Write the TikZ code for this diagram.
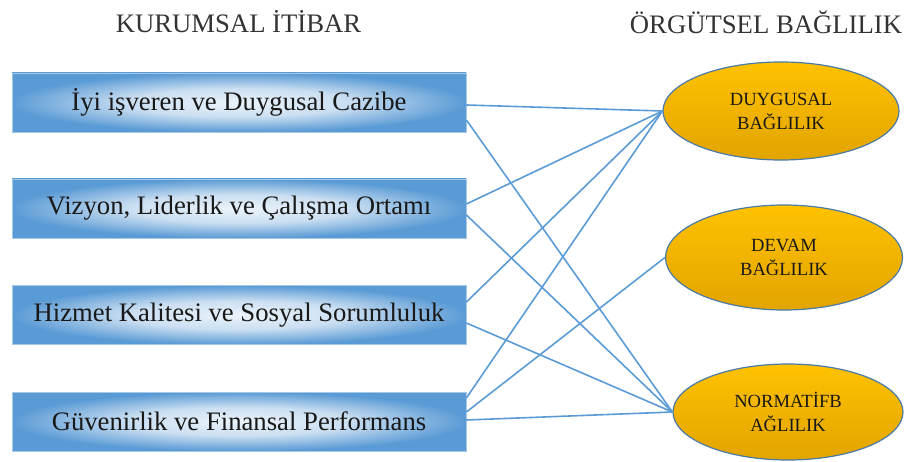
\documentclass[tikz,border=0pt]{standalone}
\usepackage{fontspec}
\setmainfont{Liberation Serif}
\usetikzlibrary{shapes.geometric,calc}
\definecolor{boxblue}{HTML}{5B9BD5}
\definecolor{linkblue}{HTML}{5B9BD5}
\definecolor{goldtop}{HTML}{FFC200}
\definecolor{goldbot}{HTML}{E2A400}
\definecolor{ellborder}{HTML}{4A7AA8}
\definecolor{titlegray}{HTML}{333333}
\pgfdeclareradialshading{boxshade}{\pgfpoint{0bp}{0bp}}{color(0bp)=(white!88!boxblue); color(12bp)=(white!68!boxblue); color(25bp)=(boxblue); color(50bp)=(boxblue)}
\tikzset{
  titlenode/.style={text=titlegray, inner sep=0pt, font=\fontsize{26.7}{30}\selectfont},
  boxnode/.style={draw=boxblue!55, line width=0.8pt, shading=boxshade, minimum width=454pt, minimum height=59pt, inner sep=0pt, text=black!90, font=\fontsize{26.7}{30}\selectfont},
  ellnode/.style={ellipse, draw=ellborder, line width=1.2pt, top color=goldtop, bottom color=goldbot, inner sep=0pt, align=center, text=black!90, font=\fontsize{18.6}{24}\selectfont},
  linkline/.style={draw=linkblue, line width=1.6pt}
}
\begin{document}
\begin{tikzpicture}[x=1pt,y=-1pt]
\useasboundingbox (0,0) rectangle (904,462);
\node[titlenode] (t1) at (238.5,22) {KURUMSAL İTİBAR};
\node[titlenode] (t2) at (766,22) {ÖRGÜTSEL BAĞLILIK};

\node[boxnode] (b1) at (239,102.5) {İyi işveren ve Duygusal Cazibe};
\node[boxnode] (b2) at (239,208.5) {Vizyon, Liderlik ve Çalışma Ortamı};
\node[boxnode] (b3) at (239,315) {Hizmet Kalitesi ve Sosyal Sorumluluk};
\node[boxnode] (b4) at (239,421.5) {Güvenirlik ve Finansal Performans};

\node[ellnode, minimum width=236pt, minimum height=98pt] (e1) at (781,111) {DUYGUSAL\\BAĞLILIK};
\node[ellnode, minimum width=237pt, minimum height=105pt] (e2) at (784,257.5) {DEVAM\\BAĞLILIK};
\node[ellnode, minimum width=230pt, minimum height=96pt] (e3) at (788,412) {NORMATİFB\\AĞLILIK};

\draw[linkline] ($(b1.east)+(0,2.5)$) -- (e1.west);
\draw[linkline] ($(b1.east)+(0,17.5)$) -- (e3.west);
\draw[linkline] ($(b2.east)+(0,-4.5)$) -- (e1.west);
\draw[linkline] ($(b2.east)+(0,6.5)$) -- (e3.west);
\draw[linkline] ($(b3.east)+(0,-13)$) -- (e1.west);
\draw[linkline] ($(b3.east)+(0,8)$) -- (e3.west);
\draw[linkline] ($(b4.east)+(0,-23.5)$) -- (e1.west);
\draw[linkline] ($(b4.east)+(0,-9.5)$) -- (e2.west);
\draw[linkline] ($(b4.east)+(0,-1.5)$) -- (e3.west);
\end{tikzpicture}
\end{document}
